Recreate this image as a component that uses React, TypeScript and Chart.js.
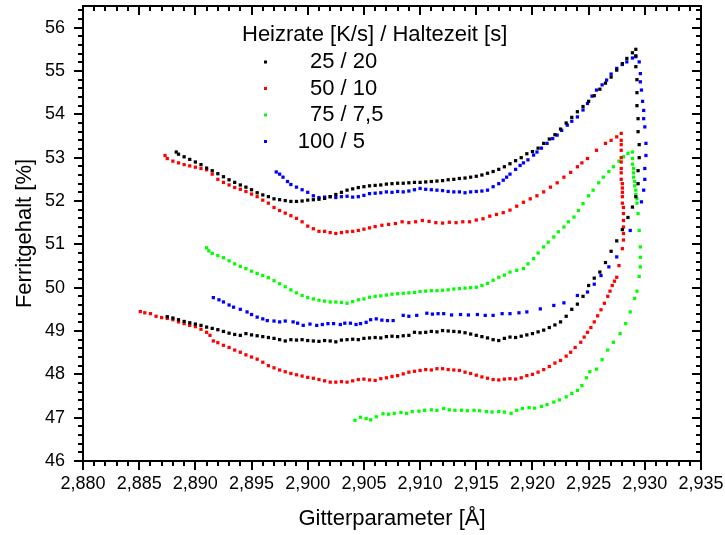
import React, { useEffect, useRef } from "react";
import { Chart, registerables } from "chart.js";

Chart.register(...registerables);

// ---- axis configuration ----
const X_MIN = 2.88;
const X_MAX = 2.935;
const X_MAJOR = 0.005;
const X_MINOR = 0.001;
const Y_MIN = 46;
const Y_MAX = 56.5;
const Y_MAJOR = 1;
const Y_MINOR = 0.2;

const xTitle = "Gitterparameter [Å]";
const yTitle = "Ferritgehalt [%]";
const legendTitle = "Heizrate [K/s] / Haltezeit [s]";

const seriesLabels = ["25 / 20", "50 / 10", "75 / 7,5", "100 / 5"];
const seriesColors = ["#000000", "#ff0000", "#00ff00", "#0000ff"];

// ---- 25 / 20 (black) ----
const blackX = [
  2.8875, 2.888, 2.8885, 2.889, 2.8895, 2.89, 2.8905, 2.891, 2.8915, 2.892, 2.8925, 2.893, 2.8935, 2.894, 2.8945,
  2.895, 2.8955, 2.896, 2.8965, 2.897, 2.8975, 2.898, 2.8985, 2.899, 2.8995, 2.9, 2.9005, 2.901, 2.9015, 2.902,
  2.9025, 2.903, 2.9035, 2.904, 2.9045, 2.905, 2.9055, 2.906, 2.9065, 2.907, 2.9075, 2.908, 2.9085, 2.909, 2.9095,
  2.91, 2.9105, 2.911, 2.9115, 2.912, 2.9125, 2.913, 2.9135, 2.914, 2.9145, 2.915, 2.9155, 2.916, 2.9165, 2.917,
  2.9175, 2.918, 2.9185, 2.919, 2.9195, 2.92, 2.9205, 2.921, 2.9215, 2.922, 2.9225, 2.923, 2.9235, 2.924, 2.9245,
  2.925, 2.9255, 2.926, 2.9265, 2.927, 2.9275, 2.928, 2.9285, 2.9289, 2.9292, 2.9294, 2.9294, 2.9295, 2.9295, 2.9294,
  2.9294, 2.9293, 2.9293, 2.9293, 2.9292, 2.9292, 2.9292,
  2.9289, 2.9284, 2.928, 2.9275, 2.927, 2.9265, 2.926, 2.9255, 2.925, 2.9245, 2.924, 2.9235, 2.923, 2.9225, 2.922,
  2.9215, 2.921, 2.9205, 2.92, 2.9195, 2.919, 2.9185, 2.918, 2.9175, 2.917, 2.9165, 2.916, 2.9155, 2.915, 2.9145,
  2.914, 2.9135, 2.913, 2.9125, 2.912, 2.9115, 2.911, 2.9105, 2.91, 2.9095, 2.909, 2.9085, 2.908, 2.9075, 2.907,
  2.9065, 2.906, 2.9055, 2.905, 2.9045, 2.904, 2.9035, 2.903, 2.9025, 2.902, 2.9015, 2.901, 2.9005, 2.9, 2.8995,
  2.899, 2.8985, 2.898, 2.8975, 2.897, 2.8965, 2.896, 2.8955, 2.895, 2.8945, 2.894, 2.8935, 2.893, 2.8925, 2.892,
  2.8915, 2.891, 2.8905, 2.89, 2.8895, 2.889, 2.8885, 2.8883,
];
const blackY = [
  49.33, 49.3, 49.26, 49.22, 49.19, 49.16, 49.13, 49.09, 49.06, 49.03, 48.99, 48.95, 48.92, 48.9, 48.94,
  48.91, 48.89, 48.87, 48.85, 48.83, 48.8, 48.77, 48.8, 48.79, 48.8, 48.78, 48.77, 48.76, 48.78, 48.77,
  48.75, 48.79, 48.8, 48.81, 48.8, 48.83, 48.84, 48.85, 48.84, 48.87, 48.88, 48.87, 48.89, 48.9, 48.97,
  48.96, 48.97, 48.99, 48.98, 49.01, 49.0, 48.99, 48.98, 48.96, 48.93, 48.9, 48.87, 48.84, 48.8, 48.78,
  48.83, 48.86, 48.85, 48.88, 48.91, 48.94, 48.98, 49.02, 49.08, 49.14, 49.21, 49.34, 49.5, 49.62, 49.8,
  50.05, 50.22, 50.36, 50.58, 50.84, 51.08, 51.34, 51.62, 51.86, 52.1, 52.4, 52.7, 53.0, 53.3, 53.6,
  53.9, 54.2, 54.5, 54.8, 55.1, 55.35, 55.5,
  55.42, 55.29, 55.17, 55.02, 54.86, 54.72, 54.58, 54.43, 54.3, 54.18, 54.06, 53.93, 53.8, 53.66, 53.53,
  53.43, 53.33, 53.22, 53.14, 53.09, 53.0, 52.93, 52.86, 52.79, 52.73, 52.68, 52.64, 52.6, 52.57, 52.55,
  52.53, 52.52, 52.5, 52.49, 52.47, 52.46, 52.45, 52.44, 52.43, 52.43, 52.42, 52.41, 52.41, 52.4, 52.39,
  52.37, 52.36, 52.35, 52.33, 52.31, 52.28, 52.25, 52.2, 52.15, 52.1, 52.06, 52.04, 52.03, 52.02, 52.0,
  51.99, 51.99, 52.01, 52.03, 52.05, 52.1, 52.14, 52.19, 52.26, 52.32, 52.37, 52.43, 52.49, 52.56, 52.63,
  52.7, 52.76, 52.84, 52.9, 52.96, 53.02, 53.08, 53.13,
];

// ---- 50 / 10 (red) ----
const redX = [
  2.8851, 2.8855, 2.886, 2.8865, 2.887, 2.8875, 2.888, 2.8885, 2.889, 2.8895, 2.89, 2.8905, 2.891, 2.8913, 2.8916,
  2.892, 2.8925, 2.893, 2.8935, 2.894, 2.8945, 2.895, 2.8955, 2.896, 2.8965, 2.897, 2.8975, 2.898, 2.8985, 2.899,
  2.8995, 2.9, 2.9005, 2.901, 2.9015, 2.902, 2.9025, 2.903, 2.9035, 2.904, 2.9045, 2.905, 2.9055, 2.906, 2.9065,
  2.907, 2.9075, 2.908, 2.9085, 2.909, 2.9095, 2.91, 2.9105, 2.911, 2.9115, 2.912, 2.9125, 2.913, 2.9135, 2.914,
  2.9145, 2.915, 2.9155, 2.916, 2.9165, 2.917, 2.9175, 2.918, 2.9185, 2.919, 2.9195, 2.92, 2.9205, 2.921, 2.9215,
  2.922, 2.9225, 2.923, 2.9234, 2.9238, 2.9243, 2.9246, 2.9249, 2.9252, 2.9255, 2.9258, 2.9261, 2.9264, 2.9267, 2.9269,
  2.9271, 2.9273, 2.9275, 2.9277, 2.928, 2.9281, 2.9281, 2.9281, 2.9281, 2.9281, 2.9281, 2.928, 2.928, 2.928, 2.928,
  2.928, 2.9279, 2.9279, 2.9279, 2.9279, 2.9279, 2.9279, 2.9279, 2.9279, 2.9279,
  2.9275, 2.927, 2.9265, 2.9257, 2.9249, 2.9244, 2.924, 2.9234, 2.9228, 2.9222, 2.9216, 2.921, 2.9204, 2.9198, 2.9192,
  2.9186, 2.918, 2.9174, 2.9168, 2.9162, 2.9156, 2.915, 2.9144, 2.9138, 2.9132, 2.9126, 2.912, 2.9114, 2.9108, 2.9102,
  2.9096, 2.909, 2.9084, 2.9078, 2.9072, 2.9066, 2.906, 2.9055, 2.905, 2.9045, 2.904, 2.9035, 2.903, 2.9025, 2.902,
  2.9015, 2.901, 2.9005, 2.9, 2.8995, 2.899, 2.8985, 2.898, 2.8975, 2.897, 2.8965, 2.896, 2.8955, 2.895, 2.8945,
  2.894, 2.8935, 2.893, 2.8925, 2.892, 2.8915, 2.891, 2.8905, 2.89, 2.8895, 2.889, 2.8885, 2.888, 2.8875, 2.8873,
];
const redY = [
  49.45, 49.42, 49.4, 49.34, 49.31, 49.29, 49.26, 49.21, 49.17, 49.13, 49.1, 49.04, 48.97, 48.9, 48.77,
  48.73, 48.67, 48.62, 48.56, 48.51, 48.45, 48.4, 48.35, 48.28, 48.2, 48.15, 48.1, 48.06, 48.02, 47.99,
  47.96, 47.93, 47.91, 47.88, 47.85, 47.82, 47.82, 47.83, 47.82, 47.85, 47.88, 47.89, 47.87, 47.86, 47.9,
  47.92, 47.95, 47.97, 48.01, 48.05, 48.07, 48.09, 48.11, 48.1, 48.13, 48.13, 48.11, 48.1, 48.09, 48.05,
  48.02, 47.98, 47.94, 47.91, 47.88, 47.87, 47.89, 47.9, 47.89, 47.92, 47.97, 48.0, 48.05, 48.11, 48.18,
  48.26, 48.32, 48.42, 48.51, 48.62, 48.74, 48.86, 48.97, 49.08, 49.21, 49.35, 49.49, 49.64, 49.8, 49.92,
  50.05, 50.15, 50.24, 50.51, 50.9, 51.1, 51.25, 51.4, 51.55, 51.71, 51.85, 51.95, 52.1, 52.2, 52.3,
  52.4, 52.5, 52.65, 52.75, 52.9, 53.0, 53.17, 53.3, 53.4, 53.56,
  53.48, 53.4, 53.33, 53.17, 52.98, 52.88, 52.79, 52.66, 52.55, 52.42, 52.32, 52.21, 52.12, 52.05, 51.97,
  51.88, 51.79, 51.73, 51.69, 51.65, 51.59, 51.56, 51.52, 51.52, 51.5, 51.51, 51.49, 51.5, 51.53, 51.55,
  51.52, 51.5, 51.52, 51.48, 51.46, 51.44, 51.41, 51.38, 51.35, 51.32, 51.3, 51.29, 51.27, 51.25, 51.27,
  51.3, 51.3, 51.36, 51.42, 51.52, 51.6, 51.66, 51.72, 51.78, 51.85, 51.95, 52.02, 52.1, 52.16, 52.22,
  52.27, 52.31, 52.37, 52.43, 52.5, 52.62, 52.72, 52.75, 52.78, 52.81, 52.84, 52.88, 52.92, 52.98, 53.05,
];

// ---- 75 / 7,5 (green) ----
const greenX = [
  2.9042, 2.9047, 2.9052, 2.9056, 2.9061, 2.9067, 2.9072, 2.9077, 2.9083, 2.9088, 2.9093, 2.9099, 2.9104, 2.911, 2.9115,
  2.9121, 2.9126, 2.9131, 2.9137, 2.9142, 2.9148, 2.9153, 2.9159, 2.9164, 2.917, 2.9175, 2.9181, 2.9186, 2.9191, 2.9197,
  2.9202, 2.9208, 2.9213, 2.9219, 2.9224, 2.923, 2.9235, 2.924, 2.9244, 2.9248, 2.9251, 2.9257, 2.9262, 2.9267, 2.9272,
  2.9278, 2.9283, 2.9287, 2.9291, 2.9293, 2.9295, 2.9296, 2.9296, 2.9296, 2.9295, 2.9294, 2.9293, 2.9293, 2.9292, 2.9292,
  2.9291, 2.9291, 2.929, 2.929, 2.929, 2.9289, 2.9289, 2.9289,
  2.9285, 2.9281, 2.9277, 2.9272, 2.9268, 2.9263, 2.9259, 2.9254, 2.925, 2.9245, 2.9241, 2.9237, 2.9232, 2.9228, 2.9223,
  2.9219, 2.9214, 2.921, 2.9205, 2.9201, 2.9196, 2.9192, 2.9186, 2.918, 2.9175, 2.917, 2.9165, 2.916, 2.9155, 2.915,
  2.9145, 2.914, 2.9135, 2.913, 2.9125, 2.912, 2.9115, 2.911, 2.9105, 2.91, 2.9095, 2.909, 2.9085, 2.908, 2.9075,
  2.907, 2.9065, 2.906, 2.9055, 2.905, 2.9045, 2.904, 2.9035, 2.903, 2.9025, 2.902, 2.9015, 2.901, 2.9005, 2.9,
  2.8995, 2.899, 2.8985, 2.898, 2.8975, 2.897, 2.8965, 2.896, 2.8955, 2.895, 2.8945, 2.894, 2.8935, 2.893, 2.8925,
  2.892, 2.8915, 2.8912, 2.891,
];
const greenY = [
  46.94, 47.01, 46.98, 46.95, 47.02, 47.09, 47.08, 47.1, 47.12, 47.1, 47.14, 47.15, 47.17, 47.18, 47.17,
  47.21, 47.18, 47.17, 47.17, 47.16, 47.17, 47.16, 47.14, 47.13, 47.14, 47.13, 47.1, 47.17, 47.21, 47.23,
  47.22, 47.26, 47.3, 47.36, 47.41, 47.48, 47.56, 47.63, 47.74, 47.92, 48.06, 48.12, 48.34, 48.56, 48.74,
  48.94, 49.17, 49.44, 49.75, 49.92, 50.26, 50.48, 50.7, 50.94, 51.32, 51.71, 51.95, 52.05, 52.15, 52.25,
  52.35, 52.45, 52.55, 52.65, 52.75, 52.85, 52.98, 53.13,
  53.1, 53.02, 52.92, 52.79, 52.68, 52.55, 52.42, 52.25, 52.12, 51.94, 51.78, 51.63, 51.52, 51.4, 51.29,
  51.17, 51.05, 50.94, 50.8, 50.67, 50.55, 50.44, 50.4, 50.36, 50.29, 50.24, 50.17, 50.1, 50.05, 50.01,
  50.0, 49.99, 49.98, 49.97, 49.95, 49.94, 49.93, 49.93, 49.92, 49.91, 49.89, 49.88, 49.87, 49.86, 49.85,
  49.83, 49.81, 49.8, 49.78, 49.74, 49.72, 49.68, 49.64, 49.66, 49.67, 49.67, 49.69, 49.71, 49.74, 49.77,
  49.82, 49.88, 49.95, 50.02, 50.09, 50.16, 50.23, 50.28, 50.33, 50.38, 50.44, 50.49, 50.55, 50.62, 50.69,
  50.74, 50.79, 50.85, 50.92,
];

// ---- 100 / 5 (blue) ----
const blueX = [
  2.8916, 2.8921, 2.8925, 2.893, 2.8934, 2.894, 2.8946, 2.895, 2.8955, 2.896, 2.8964, 2.897, 2.8975, 2.898, 2.8987,
  2.8991, 2.8996, 2.9002, 2.9008, 2.9013, 2.9018, 2.9023, 2.9029, 2.9033, 2.9038, 2.9043, 2.9047, 2.9052, 2.9056, 2.9061,
  2.9066, 2.9071, 2.9076, 2.9085, 2.909, 2.9097, 2.9106, 2.9111, 2.9116, 2.9121, 2.9128, 2.9136, 2.9143, 2.9151, 2.9158,
  2.9165, 2.9173, 2.918, 2.9188, 2.9195, 2.9207, 2.9219, 2.9228, 2.924, 2.9249, 2.9255, 2.9261, 2.9268, 2.9275, 2.9287,
  2.9297, 2.9299, 2.93, 2.93, 2.9301, 2.9301, 2.93, 2.9299, 2.9299, 2.9298, 2.9297, 2.9296, 2.9296, 2.9295, 2.9292,
  2.9289, 2.9284, 2.928, 2.9275, 2.927, 2.9266, 2.9262, 2.9257, 2.9253, 2.9249, 2.9245, 2.924, 2.9235, 2.9231, 2.9226,
  2.9222, 2.9218, 2.9213, 2.9208, 2.9204, 2.9201, 2.9196, 2.9192, 2.9189, 2.9185, 2.918, 2.9177, 2.9174, 2.917, 2.9165,
  2.916, 2.9155, 2.915, 2.9145, 2.914, 2.9135, 2.913, 2.9125, 2.912, 2.9115, 2.911, 2.9105, 2.91, 2.9095, 2.909,
  2.9085, 2.908, 2.9075, 2.907, 2.9065, 2.906, 2.9055, 2.905, 2.9045, 2.904, 2.9035, 2.903, 2.9025, 2.902, 2.9015,
  2.901, 2.9005, 2.9, 2.8995, 2.899, 2.8985, 2.8982, 2.8978, 2.8975, 2.8972,
];
const blueY = [
  49.77, 49.72, 49.67, 49.6, 49.55, 49.5, 49.44, 49.38, 49.32, 49.28, 49.24, 49.23, 49.21, 49.23, 49.21,
  49.18, 49.13, 49.16, 49.13, 49.15, 49.17, 49.17, 49.15, 49.18, 49.18, 49.15, 49.17, 49.2, 49.26, 49.28,
  49.25, 49.24, 49.24, 49.36, 49.34, 49.36, 49.41, 49.39, 49.4, 49.4, 49.37, 49.38, 49.37, 49.38, 49.36,
  49.36, 49.4, 49.4, 49.42, 49.44, 49.51, 49.59, 49.65, 49.82, 49.9, 50.08, 50.28, 50.48, 50.71, 51.32,
  51.98, 52.25, 52.5, 52.75, 53.05, 53.33, 53.71, 53.9, 54.09, 54.3, 54.56, 54.75, 54.94, 55.21, 55.33,
  55.3, 55.21, 55.15, 55.06, 54.93, 54.79, 54.68, 54.56, 54.42, 54.25, 54.1, 53.94, 53.84, 53.75, 53.63,
  53.52, 53.44, 53.33, 53.22, 53.13, 53.06, 52.95, 52.88, 52.82, 52.73, 52.62, 52.55, 52.48, 52.4, 52.33,
  52.25, 52.23, 52.22, 52.21, 52.19, 52.21, 52.21, 52.22, 52.24, 52.25, 52.26, 52.27, 52.29, 52.26, 52.23,
  52.21, 52.22, 52.2, 52.21, 52.19, 52.18, 52.17, 52.13, 52.1, 52.09, 52.11, 52.1, 52.08, 52.1, 52.09,
  52.08, 52.12, 52.2, 52.26, 52.32, 52.38, 52.45, 52.55, 52.62, 52.67,
];

const seriesX = [blackX, redX, greenX, blueX];
const seriesY = [blackY, redY, greenY, blueY];

const FONT = "'Liberation Sans', Arial, sans-serif";

function fmtX(v: number) {
  return (Math.round(v * 1000) / 1000).toFixed(3).replace(".", ",");
}

function zeroPad(s: any) {
  s.paddingTop = 0;
  s.paddingBottom = 0;
  s.paddingLeft = 0;
  s.paddingRight = 0;
}

const framePlugin = {
  id: "frameTicks",
  afterDatasetsDraw(chart: any) {
    const { ctx, chartArea } = chart;
    const { left, right, top, bottom } = chartArea;
    const xs = chart.scales.x;
    const ys = chart.scales.y;
    ctx.save();
    ctx.strokeStyle = "#000";
    ctx.lineWidth = 2;
    ctx.lineCap = "butt";
    ctx.beginPath();
    ctx.rect(left, top, right - left, bottom - top);
    ctx.stroke();
    ctx.beginPath();
    const nx = Math.round((X_MAX - X_MIN) / X_MINOR);
    const ratio = Math.round(X_MAJOR / X_MINOR);
    for (let i = 0; i <= nx; i++) {
      const v = X_MIN + i * X_MINOR;
      const px = Math.round(xs.getPixelForValue(v));
      const len = i % ratio === 0 ? 9 : 5;
      ctx.moveTo(px, bottom);
      ctx.lineTo(px, bottom + len);
      ctx.moveTo(px, top);
      ctx.lineTo(px, top + len);
    }
    const ny = Math.floor((Y_MAX - Y_MIN) / Y_MINOR + 1e-6);
    const yratio = Math.round(Y_MAJOR / Y_MINOR);
    for (let i = 0; i <= ny; i++) {
      const v = Y_MIN + i * Y_MINOR;
      const py = Math.round(ys.getPixelForValue(v));
      const len = i % yratio === 0 ? 9 : 5;
      ctx.moveTo(left, py);
      ctx.lineTo(left - len, py);
      ctx.moveTo(right, py);
      ctx.lineTo(right - len, py);
    }
    ctx.stroke();
    ctx.restore();
  },
  afterDraw(chart: any) {
    const { ctx } = chart;
    ctx.save();
    ctx.fillStyle = "#000";
    ctx.font = `22px ${FONT}`;
    ctx.textBaseline = "middle";
    ctx.textAlign = "left";
    ctx.fillText(legendTitle, 242, 35);
    const slashX = 310 + ctx.measureText("25").width;
    chart.data.datasets.forEach((ds: any, i: number) => {
      const y = 62 + i * 26.5;
      ctx.fillStyle = ds.backgroundColor;
      ctx.fillRect(264, y - 1.5, 3, 3);
      ctx.fillStyle = "#000";
      const parts = String(ds.label).split(" / ");
      ctx.textAlign = "right";
      ctx.fillText(parts[0], slashX, y);
      ctx.textAlign = "left";
      ctx.fillText(" / " + parts[1], slashX, y);
    });
    ctx.restore();
  },
};

export default function App() {
  const ref = useRef<HTMLCanvasElement | null>(null);
  useEffect(() => {
    document.body.style.margin = "0";
    const canvas = ref.current;
    if (!canvas) return;
    const datasets = seriesLabels.map((label, i) => ({
      label,
      data: seriesX[i].map((x, j) => ({ x, y: seriesY[i][j] })),
      backgroundColor: seriesColors[i],
      borderColor: seriesColors[i],
      borderWidth: 0,
      pointStyle: "rect",
      pointRadius: 2.3,
      pointHoverRadius: 2.3,
      showLine: false,
    }));
    const chart = new Chart(canvas, {
      type: "scatter",
      data: { datasets },
      plugins: [framePlugin],
      options: {
        animation: false,
        responsive: false,
        devicePixelRatio: 1,
        layout: { padding: { top: 6, right: 24, left: 0, bottom: 0 } },
        plugins: { legend: { display: false }, tooltip: { enabled: false } },
        scales: {
          x: {
            type: "linear",
            min: X_MIN,
            max: X_MAX,
            grid: { display: false },
            border: { display: false },
            afterFit: (s: any) => {
              s.height = 74;
              zeroPad(s);
            },
            afterBuildTicks: (s: any) => {
              const t = [];
              const n = Math.round((X_MAX - X_MIN) / X_MAJOR);
              for (let i = 0; i <= n; i++) t.push({ value: X_MIN + i * X_MAJOR });
              s.ticks = t;
            },
            ticks: {
              padding: 4,
              maxRotation: 0,
              autoSkip: false,
              color: "#000",
              font: { family: FONT, size: 18 },
              callback: (v: any) => fmtX(Number(v)),
            },
            title: {
              display: true,
              text: xTitle,
              color: "#000",
              font: { family: FONT, size: 22 },
              padding: { top: 0, bottom: 3 },
            },
          },
          y: {
            type: "linear",
            min: Y_MIN,
            max: Y_MAX,
            grid: { display: false },
            border: { display: false },
            afterFit: (s: any) => {
              s.width = 83;
              zeroPad(s);
            },
            afterBuildTicks: (s: any) => {
              const t = [];
              for (let v = Y_MIN; v <= 56; v += Y_MAJOR) t.push({ value: v });
              s.ticks = t;
            },
            ticks: {
              padding: 10,
              autoSkip: false,
              color: "#000",
              font: { family: FONT, size: 18 },
              callback: (v: any) => String(Math.round(Number(v))),
            },
            title: {
              display: true,
              text: yTitle,
              color: "#000",
              font: { family: FONT, size: 22 },
              padding: { top: 12, bottom: 0 },
            },
          },
        },
      },
    } as any);
    return () => chart.destroy();
  }, []);
  return <canvas ref={ref} width={725} height={535} style={{ display: "block", width: 725, height: 535 }} />;
}
